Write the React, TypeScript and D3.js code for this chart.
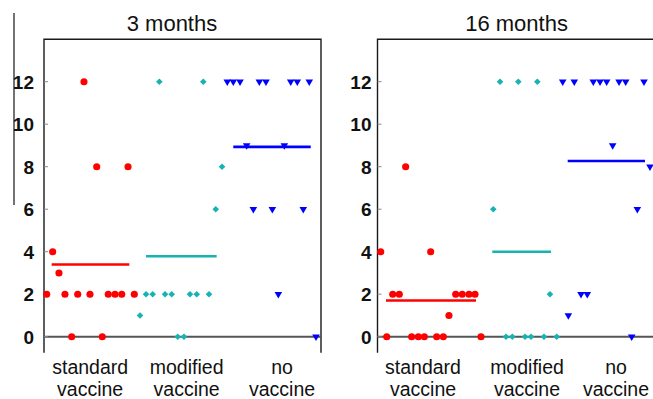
import React from 'react';
import * as d3 from 'd3';

const W = 653;
const H = 399;

const groupNames = [['standard', 'vaccine'], ['modified', 'vaccine'], ['no', 'vaccine']];
const groupColors = ['#ff0000', '#17b3b3', '#0000ff'];
const yTicks = [0, 2, 4, 6, 8, 10, 12];

// points as [slot position along the panel (0..3), titre]
const standard3 = [
  [0.433, 12], [0.571, 8], [0.910, 8], [0.094, 4], [0.162, 3],
  [0.029, 2], [0.227, 2], [0.365, 2], [0.498, 2], [0.696, 2], [0.769, 2], [0.842, 2], [0.978, 2],
  [0.300, 0], [0.631, 0],
];
const modified3 = [
  [1.249, 12], [1.725, 12], [1.928, 8], [1.860, 6],
  [1.105, 2], [1.177, 2], [1.311, 2], [1.383, 2], [1.581, 2], [1.654, 2], [1.787, 2],
  [1.040, 1], [1.448, 0], [1.516, 0],
];
const none3 = [
  [1.985, 12], [2.050, 12], [2.123, 12], [2.332, 12], [2.404, 12], [2.672, 12], [2.743, 12], [2.873, 12],
  [2.195, 9], [2.603, 9], [2.267, 6], [2.473, 6], [2.808, 6], [2.538, 2], [2.946, 0],
];
const standard16 = [
  [0.305, 8], [0.035, 4], [0.576, 4],
  [0.165, 2], [0.236, 2], [0.847, 2], [0.918, 2], [0.991, 2], [1.056, 2],
  [0.774, 1],
  [0.100, 0], [0.370, 0], [0.442, 0], [0.507, 0], [0.641, 0], [0.713, 0], [1.121, 0],
];
const modified16 = [
  [1.327, 12], [1.525, 12], [1.731, 12], [1.254, 6], [1.868, 2],
  [1.392, 0], [1.460, 0], [1.598, 0], [1.663, 0], [1.803, 0], [1.941, 0],
];
const none16 = [
  [2.006, 12], [2.131, 12], [2.337, 12], [2.410, 12], [2.482, 12], [2.616, 12], [2.688, 12], [2.886, 12],
  [2.547, 9], [2.951, 8], [2.814, 6], [2.204, 2], [2.272, 2], [2.067, 1], [2.753, 0],
];

// extent of each mean bar, in slot positions
const meanSpans3 = [[0.083, 0.924], [1.105, 1.870], [2.050, 2.889]];
const meanSpans16 = [[0.092, 1.067], [1.243, 1.879], [2.060, 2.897]];
const labelSlots3 = [0.5, 1.545, 2.578];
const labelSlots16 = [0.493, 1.619, 2.583];

const panels = [
  { title: '3 months', titleSlot: 1.386, left: 44, labelGap: 10, series: [standard3, modified3, none3], spans: meanSpans3, labelSlots: labelSlots3 },
  { title: '16 months', titleSlot: 1.506, left: 377.5, labelGap: 6, series: [standard16, modified16, none16], spans: meanSpans16, labelSlots: labelSlots16 },
];

const y = d3.scaleLinear().domain([0, 12]).range([336.7, 81.7]);
const yTop = y(14);
const yBottom = y(-0.75);
const panelWidth = 277;

const circle = d3.symbol(d3.symbolCircle, 40)();
const diamond = d3.symbol(d3.symbolSquare, 22)();
const triangle = d3.symbol(d3.symbolTriangle, 25)();

const font = '"Liberation Sans", Arial, Helvetica, sans-serif';

function Marker({ g, cx, cy }: { g: number; cx: number; cy: number }) {
  if (g === 0) return <path d={circle!} transform={`translate(${cx},${cy})`} fill={groupColors[0]} />;
  if (g === 1) return <path d={diamond!} transform={`translate(${cx},${cy}) rotate(45)`} fill={groupColors[1]} />;
  return <path d={triangle!} transform={`translate(${cx},${cy}) rotate(180)`} fill={groupColors[2]} />;
}

function Panel({ p }: { p: typeof panels[number] }) {
  const x = d3.scaleLinear().domain([0, 3]).range([p.left, p.left + panelWidth]);
  const right = x(3);
  return (
    <g>
      <text x={x(p.titleSlot)} y={30.5} textAnchor="middle" fontSize={22} fontFamily={font} fill="#111">{p.title}</text>
      {/* frame */}
      <path d={`M${p.left},${yBottom}V${yTop}H${right}V${yBottom}`} fill="none" stroke="#1a1a1a" strokeWidth={1.4} />
      {/* zero line */}
      <line x1={p.left} x2={right} y1={y(0)} y2={y(0)} stroke="#555" strokeWidth={2} />
      {yTicks.map(t => (
        <g key={t}>
          <line x1={p.left} x2={p.left + 4} y1={y(t)} y2={y(t)} stroke="#888" strokeWidth={1} />
          <text x={p.left - p.labelGap} y={y(t)} dy="0.36em" textAnchor="end" fontSize={19} fontWeight="bold" fontFamily={font} fill="#111">{t}</text>
        </g>
      ))}
      {p.series.map((pts, g) => {
        const m = d3.mean(pts, d => d[1]) as number;
        return (
          <g key={g}>
            <line x1={x(p.spans[g][0])} x2={x(p.spans[g][1])} y1={y(m)} y2={y(m)} stroke={groupColors[g]} strokeWidth={2.6} />
            {pts.map((d, i) => <Marker key={i} g={g} cx={x(d[0])} cy={y(d[1])} />)}
          </g>
        );
      })}
      {groupNames.map((lines, g) => (
        <text key={g} x={x(p.labelSlots[g])} textAnchor="middle" fontSize={19.5} fontFamily={font} fill="#111">
          <tspan x={x(p.labelSlots[g])} y={373.5}>{lines[0]}</tspan>
          <tspan x={x(p.labelSlots[g])} y={396}>{lines[1]}</tspan>
        </text>
      ))}
    </g>
  );
}

export default function App() {
  return (
    <div style={{ position: 'fixed', left: 0, top: 0 }}>
      <svg width={W} height={H} style={{ display: 'block', background: '#fff' }}>
        <line x1={14} x2={14} y1={13} y2={205} stroke="#444" strokeWidth={1.5} />
        {panels.map(p => <Panel key={p.title} p={p} />)}
      </svg>
    </div>
  );
}
